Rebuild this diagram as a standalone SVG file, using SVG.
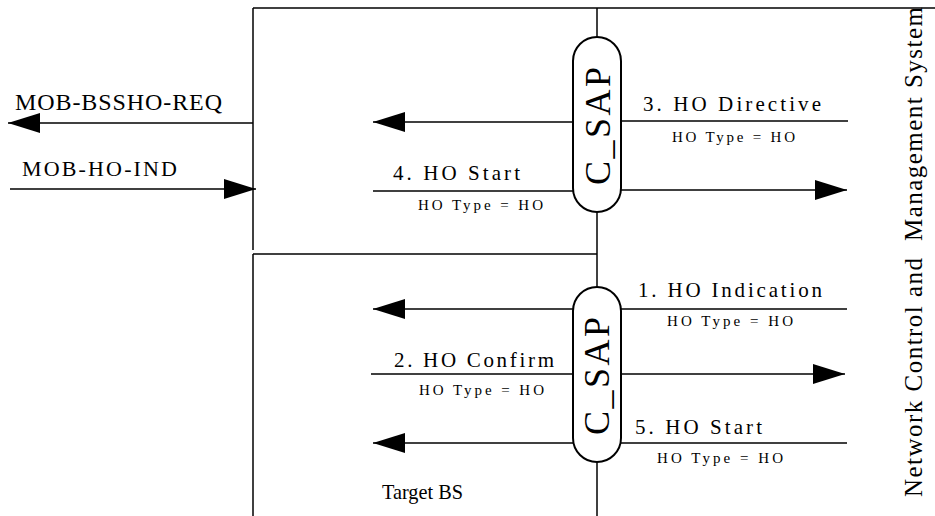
<svg xmlns="http://www.w3.org/2000/svg" width="935" height="516" viewBox="0 0 935 516">
<style>
.ln{stroke:#000;stroke-width:1.5;fill:none}
.ar{stroke:#000;stroke-width:1.5;fill:none;marker-end:url(#ah)}
.cap{fill:#fff;stroke:#000;stroke-width:2}
.lb{font-size:21px}
.sl{font-size:15px}
.big{font-size:36px}
</style>
<defs>
<marker id="ah" viewBox="0 0 32 20" markerWidth="32" markerHeight="20" refX="32" refY="10" orient="auto" markerUnits="userSpaceOnUse">
<path d="M0,0 L32,10 L0,20 z" fill="#000"/>
</marker>
</defs>
<rect width="935" height="516" fill="#fff"/>
<g id="frame">
<line class="ln" x1="253" y1="8" x2="935" y2="8"/>
<line class="ln" x1="253" y1="8" x2="253" y2="250"/>
<line class="ln" x1="253" y1="254" x2="597" y2="254"/>
<line class="ln" x1="253" y1="254" x2="253" y2="516"/>
<line class="ln" x1="597" y1="8" x2="597" y2="516"/>
</g>
<g id="connectors">
<line class="ar" x1="253" y1="123" x2="8" y2="123"/>
<line class="ar" x1="10" y1="189" x2="256" y2="189"/>
<line class="ar" x1="573" y1="122" x2="373" y2="122"/>
<line class="ln" x1="373" y1="191" x2="573" y2="191"/>
<line class="ln" x1="621" y1="121" x2="848" y2="121"/>
<line class="ar" x1="621" y1="190" x2="847" y2="190"/>
<line class="ar" x1="573" y1="309" x2="373" y2="309"/>
<line class="ln" x1="371" y1="374" x2="573" y2="374"/>
<line class="ar" x1="573" y1="443" x2="373" y2="443"/>
<line class="ln" x1="621" y1="309" x2="847" y2="309"/>
<line class="ar" x1="621" y1="374" x2="845" y2="374"/>
<line class="ln" x1="621" y1="443" x2="847" y2="443"/>
</g>
<g font-family="'Liberation Serif', 'DejaVu Serif', serif" fill="#000">
<g id="sap-top">
<rect class="cap" x="573" y="37" width="48" height="175" rx="24" ry="24"/>
<text class="big" transform="translate(610,126) rotate(-90)" text-anchor="middle" textLength="118" lengthAdjust="spacing">C_SAP</text>
</g>
<g id="sap-bottom">
<rect class="cap" x="573" y="287" width="48" height="175" rx="24" ry="24"/>
<text class="big" transform="translate(609,376) rotate(-90)" text-anchor="middle" textLength="118" lengthAdjust="spacing">C_SAP</text>
</g>
<g id="labels">
<text x="15" y="110" font-size="24" textLength="207" lengthAdjust="spacing">MOB-BSSHO-REQ</text>
<text x="22" y="176" font-size="22" textLength="155" lengthAdjust="spacing">MOB-HO-IND</text>
<text class="lb" x="393" y="180" textLength="127" lengthAdjust="spacing">4. HO Start</text>
<text class="sl" x="418" y="210" textLength="125" lengthAdjust="spacing">HO Type = HO</text>
<text class="lb" x="643" y="111" textLength="178" lengthAdjust="spacing">3. HO Directive</text>
<text class="sl" x="672" y="142" textLength="123" lengthAdjust="spacing">HO Type = HO</text>
<text class="lb" x="394" y="367" textLength="160" lengthAdjust="spacing">2. HO Confirm</text>
<text class="sl" x="419" y="395" textLength="125" lengthAdjust="spacing">HO Type = HO</text>
<text class="lb" x="638" y="297" textLength="184" lengthAdjust="spacing">1. HO Indication</text>
<text class="sl" x="667" y="326" textLength="126" lengthAdjust="spacing">HO Type = HO</text>
<text class="lb" x="635" y="434" textLength="127" lengthAdjust="spacing">5. HO Start</text>
<text class="sl" x="657" y="463" textLength="126" lengthAdjust="spacing">HO Type = HO</text>
</g>
<g id="target-bs">
<text x="382" y="499" font-size="21" textLength="81" lengthAdjust="spacingAndGlyphs">Target BS</text>
</g>
<g id="ncms">
<text transform="translate(922,497) rotate(-90)" font-size="25" textLength="490" lengthAdjust="spacing" xml:space="preserve">Network Control and  Management System</text>
</g>
</g>
</svg>
